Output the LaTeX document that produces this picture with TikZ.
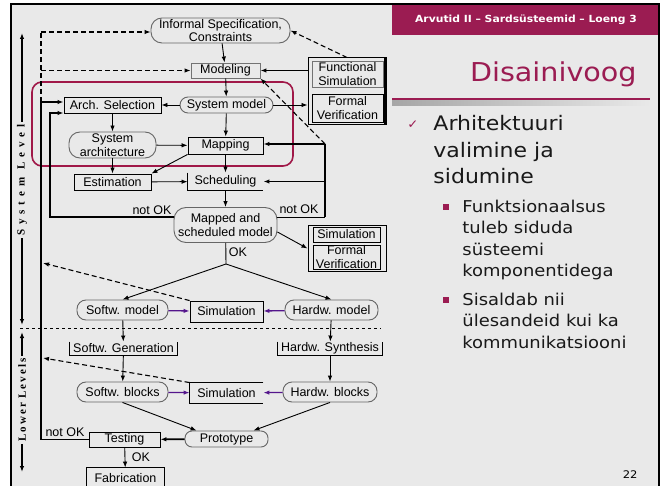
\documentclass[tikz,border=0pt]{standalone}
\usepackage{fontspec}
\usetikzlibrary{positioning,arrows.meta}
\newfontfamily\diafont{Liberation Sans}
\newfontfamily\slidefont[FakeStretch=1.1]{DejaVu Sans}
\newfontfamily\lvlfont[LetterSpace=45]{Liberation Serif}
\newfontfamily\lowfont[LetterSpace=18]{Liberation Serif}
\definecolor{slidebg}{RGB}{233,233,233}
\definecolor{plum}{RGB}{155,28,82}
\definecolor{hlcol}{RGB}{160,24,72}
\definecolor{purp}{RGB}{84,22,140}
\newcommand{\dfont}{\diafont\fontsize{12.5}{13.5}\selectfont}

\begin{document}
\begin{tikzpicture}[x=1pt, y=-1pt, line width=0.9pt,
    blk/.style={draw, inner sep=0pt, font=\dfont, text=black},
    rnd/.style={draw=black!60, rounded corners=9pt, inner sep=0pt, font=\dfont, text=black},
    bare/.style={inner sep=0pt, font=\dfont, text=black},
    lbl/.style={inner sep=0pt, font=\dfont, text=black},
    arr/.style={-{Latex[length=6pt,width=4.5pt]}},
    thk/.style={line width=1.8pt},
    dsh/.style={dash pattern=on 5pt off 3pt, line width=1.1pt},
    parr/.style={arr, draw=purp, line width=1.3pt},
    slide/.style 2 args={inner sep=0pt, font=\slidefont\fontsize{#1}{#2}\selectfont, align=left, text=black!90}
  ]
  % slide
  \useasboundingbox (0,0) rectangle (666,486);
  \clip (0,0) rectangle (666,486);
  \fill[white] (0,0) rectangle (666,486);
  \draw[line width=2pt, fill=slidebg] (11,4) rectangle (659,495);
  \fill[plum] (392,5) rectangle (658,35);
  \shade[left color=black!35, right color=slidebg] (392,100) rectangle (650,106);
  \draw[plum, line width=2pt] (392,99) -- (650,99);

  % slide text (base = last line)
  \node[font=\slidefont\bfseries\fontsize{9.8}{11}\selectfont, text=white] (hdr) at (526,20) {Arvutid II – Sardsüsteemid – Loeng 3};
  \node[anchor=base east, inner sep=0pt, font=\slidefont\fontsize{26}{30}\selectfont, text=plum] (title) at (637,82) {Disainivoog};
  \node[slide={20}{26.5}, anchor=base west] (pt1) at (433,184) {Arhitektuuri\\valimine ja\\sidumine};
  \node[anchor=base, inner sep=0pt, font=\slidefont\fontsize{12}{12}\selectfont, text=plum] (chk) at (413,129) {✓};
  \node[fill=plum, minimum size=6pt, inner sep=0pt] (sq1) at (446,207) {};
  \node[slide={16.3}{21.5}, anchor=base west] (pt2) at (462,276.5) {Funktsionaalsus\\tuleb siduda\\süsteemi\\komponentidega};
  \node[fill=plum, minimum size=6pt, inner sep=0pt] (sq2) at (446,300) {};
  \node[slide={16.3}{21.5}, anchor=base west] (pt3) at (462,348) {Sisaldab nii\\ülesandeid kui ka\\kommunikatsiooni};
  \node[anchor=base east, inner sep=0pt, font=\slidefont\fontsize{10.5}{12}\selectfont] (pgno) at (638,478) {22};

  % level markers
  \node[rotate=90, inner sep=2pt, font=\lvlfont\bfseries\fontsize{11}{12}\selectfont] (syslvl) at (22,180) {System Level};
  \node[rotate=90, inner sep=2pt, font=\lowfont\bfseries\fontsize{11}{12}\selectfont] (lowlvl) at (22,400) {Lower Levels};
  \coordinate (sltop) at (22,33);
  \coordinate (slbot) at (22,325);
  \coordinate (lltop) at (22,332);
  \coordinate (llbot) at (22,472);
  \draw[arr, line width=1.3pt] (syslvl.east) -- (sltop);
  \draw[arr, line width=1.3pt] (syslvl.west) -- (slbot);
  \draw[arr, line width=1.3pt] (lowlvl.east) -- (lltop);
  \draw[arr, line width=1.3pt] (lowlvl.west) -- (llbot);

  % highlighted part
  \draw[hlcol, line width=1.6pt, rounded corners=10pt] (32,82) rectangle (293,166);

  % system level
  \node[rnd, rounded corners=11pt, minimum width=139pt, minimum height=25pt, align=center] (infspec) at (220.5,30.5) {Informal Specification,\\Constraints};
  \node[blk, draw=black!55, minimum width=69pt, minimum height=15pt] (modeling) at (225.5,70.5) {Modeling};
  \node[draw, line width=1pt, minimum width=78pt, minimum height=67pt, inner sep=0pt] (fsgrp) at (347,91.5) {};
  \node[blk, draw=black!55, minimum width=71pt, minimum height=26pt, align=center] (funcsim) at (347.5,74) {Functional\\Simulation};
  \node[blk, minimum width=71pt, minimum height=28pt, align=center] (formver) at (347.5,108) {Formal\\Verification};
  \draw[line width=2pt] ([xshift=-1.5pt]fsgrp.north east) -- ([xshift=-1.5pt]fsgrp.south east);
  \node[blk, minimum width=97pt, minimum height=16pt] (archsel) at (112.5,105) {Arch. Selection};
  \node[rnd, rounded corners=8pt, minimum width=93pt, minimum height=16pt] (sysmod) at (226.5,105) {System model};
  \node[rnd, rounded corners=11pt, minimum width=87pt, minimum height=26pt, align=center] (sysarch) at (112.5,145) {System\\architecture};
  \node[blk, minimum width=75pt, minimum height=17pt] (mapping) at (225.5,145.5) {Mapping};
  \node[blk, minimum width=77pt, minimum height=16pt] (estim) at (112.5,182) {Estimation};
  \node[bare, minimum width=75pt, minimum height=17pt] (sched) at (225.5,181.5) {Scheduling};
  \draw (sched.north west) -- (sched.south west) -- (sched.south east);
  \node[rnd, rounded corners=12pt, minimum width=103pt, minimum height=35pt, align=center] (mapped) at (225.5,225) {Mapped and\\scheduled model};
  \node[draw, line width=1pt, minimum width=78pt, minimum height=45pt, inner sep=0pt] (svgrp) at (347,248.5) {};
  \node[blk, minimum width=67pt, minimum height=15pt] (sim1) at (346.5,234.5) {Simulation};
  \node[blk, minimum width=67pt, minimum height=24pt, align=center] (formver2) at (346.5,257) {Formal\\Verification};

  % lower levels
  \node[rnd, minimum width=91pt, minimum height=20pt] (swmodel) at (122.5,310) {Softw. model};
  \node[blk, minimum width=73pt, minimum height=21pt] (sim2) at (226.5,311.5) {Simulation};
  \node[rnd, minimum width=93pt, minimum height=20pt] (hwmodel) at (331.5,310) {Hardw. model};
  \node[bare, minimum width=107pt, minimum height=13pt] (swgen) at (123.5,348.5) {Softw. Generation};
  \draw (swgen.north west) |- (swgen.south east) -- (swgen.north east);
  \node[bare, minimum width=104pt, minimum height=13pt] (hwsyn) at (330,348.5) {Hardw. Synthesis};
  \draw (hwsyn.north west) |- (hwsyn.south east) -- (hwsyn.north east);
  \node[rnd, minimum width=91pt, minimum height=20pt] (swblk) at (122.5,392) {Softw. blocks};
  \node[bare, minimum width=73pt, minimum height=20pt] (sim3) at (226.5,393) {Simulation};
  \draw (sim3.north east) -- (sim3.north west) -- (sim3.south west) -- (sim3.south east);
  \node[rnd, minimum width=94pt, minimum height=20pt] (hwblk) at (330,392) {Hardw. blocks};
  \node[rnd, rounded corners=7pt, minimum width=83pt, minimum height=16pt] (proto) at (226.5,439) {Prototype};
  \node[blk, minimum width=71pt, minimum height=15pt] (testing) at (124.5,439.5) {Testing};
  \node[bare, minimum width=77pt, minimum height=20pt] (fab) at (125.5,478) {Fabrication};
  \draw (fab.south west) -- (fab.north west) -- (fab.north east) -- (fab.south east);

  % labels
  \node[lbl] (nok1) at (152,210) {not OK};
  \node[lbl] (nok2) at (299,209) {not OK};
  \node[lbl] (nok3) at (65,432) {not OK};
  \node[lbl] (ok1) at (238,252) {OK};
  \node[lbl] (ok2) at (141,457) {OK};

  % bus points
  \coordinate (busA) at (41,102);
  \coordinate (busTop) at (41,32);
  \coordinate (busB) at (50,113);
  \coordinate (busC) at (325,144);
  \coordinate (busD) at (325,217);
  \coordinate (busE) at (43,263);
  \coordinate (busF) at (43,358);
  \coordinate (split) at (226,264);
  \coordinate (sepl) at (20,328);
  \coordinate (sepr) at (381,328);

  % dashed feedback
  \draw[dsh] (busA) -- (busTop);
  \draw[dsh, arr] (busTop) -- (busTop -| infspec.west);
  \draw[dsh, arr] (busA |- modeling.west) -- (modeling.west);
  \draw[dsh, arr] (fsgrp.north) -- (infspec.east);
  \draw[dsh, arr] (busC) -- (modeling.south east);
  \draw[dsh, arr] (sim2.north west) -- (busE);
  \draw[dsh, arr] (sim3.north west) -- (busF);
  \draw[dashed, line width=0.8pt] (sepl) -- (sepr);

  % system level flow
  \draw[arr] (infspec) -- (modeling);
  \draw[arr, thk] (fsgrp.west |- modeling.east) -- (modeling.east);
  \draw[arr] (modeling) -- (sysmod);
  \draw[arr] (sysmod) -- (archsel);
  \draw[arr] (sysmod.east) -- (sysmod.east -| fsgrp.west);
  \draw[arr] (archsel) -- (sysarch);
  \draw[arr] (sysmod) -- (mapping);
  \draw[arr] (sysarch) -- (mapping);
  \draw[arr] (sysarch) -- (estim);
  \draw[arr] (mapping.south west) -- (estim.north east);
  \draw[arr] (mapping) -- (sched);
  \draw[arr] (estim) -- (sched);
  \draw[arr] (sched) -- (mapped);

  % not OK loops
  \draw[arr, thk] (testing.west) -| (busA) -- (busA -| archsel.west);
  \draw[arr, line width=1.3pt] ([yshift=8pt]mapped.west) -| (busB) -- (busB -| archsel.west);
  \draw ([yshift=8pt]mapped.east) -- (busD);
  \draw[thk] (busD) -- (busC);
  \draw[arr, thk] (busC) -- (busC -| mapping.east);
  \draw[arr, thk] (busD |- sched.east) -- (sched.east);

  % down to the lower levels
  \draw[arr] ([yshift=-7pt]mapped.east) -- (svgrp.west);
  \draw (mapped) -- (split);
  \draw[arr] (split) -- (swmodel.north);
  \draw[arr] (split) -- (hwmodel.north);
  \draw[parr] (swmodel) -- (sim2);
  \draw[parr] (hwmodel) -- (sim2);
  \draw[arr] (swmodel) -- (swgen);
  \draw[arr] (hwmodel) -- (hwsyn);
  \draw[arr] (swgen) -- (swblk);
  \draw[arr] (hwsyn) -- (hwblk);
  \draw[parr] (swblk) -- (sim3);
  \draw[parr] (hwblk) -- (sim3);
  \draw[arr] (swblk.south) -- ([xshift=12pt]proto.north west);
  \draw[arr] (hwblk.south) -- ([xshift=-15pt]proto.north east);
  \draw[arr, thk] (proto) -- (testing);
  \draw[arr] (testing) -- (fab);
\end{tikzpicture}
\end{document}
